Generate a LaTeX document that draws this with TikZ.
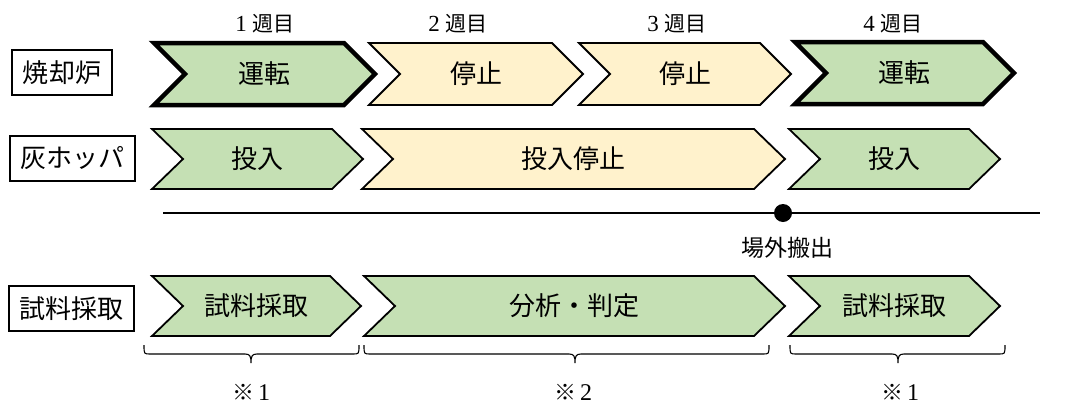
\documentclass[tikz,border=0pt]{standalone}
\usepackage{fontspec}
\setmainfont{Liberation Serif}
\newfontfamily\cjk{Noto Sans CJK JP}
\definecolor{pgreen}{HTML}{C5E0B4}
\definecolor{pyellow}{HTML}{FFF2CC}
\newcommand\chev[7]{%
  \draw[#1] (#2,#4) -- ({#3-31},#4) -- (#3,{(#4+#5)/2}) -- ({#3-31},#5) -- (#2,#5) -- ({#2+31},{(#4+#5)/2}) -- cycle;
  \node[ctext] (#6) at ({(#2+#3)/2},{(#4+#5)/2}) {#7};
}
\newcommand\brc[4]{% name, x1, x2, c
  \draw[bracestyle] (#2,345) .. controls (#2,354) .. ({#2+6},354) -- ({#4-6},354)
    .. controls ({#4-1},354) and (#4,356) .. (#4,363)
    .. controls (#4,356) and ({#4+1},354) .. ({#4+6},354) -- ({#3-6},354)
    .. controls (#3,354) .. (#3,345);
  \coordinate (#1) at (#4,363);
}
\begin{document}
\begin{tikzpicture}[x=1pt,y=-1pt,
  thickg/.style={draw=black,line width=4.5pt,fill=pgreen},
  grn/.style={draw=black,line width=1.8pt,fill=pgreen},
  ylw/.style={draw=black,line width=1.8pt,fill=pyellow},
  ctext/.style={font=\cjk\fontsize{26}{30}\selectfont,inner sep=0pt},
  lbox/.style={draw=black,line width=1.1pt,font=\cjk\fontsize{26}{30}\selectfont,inner sep=0pt,minimum height=45pt},
  wk/.style={font=\fontsize{23}{27}\selectfont,inner sep=0pt},
  bracestyle/.style={draw=black,line width=1.1pt},
]
\useasboundingbox (0,0) rectangle (1078,405);
\fill[white] (0,0) rectangle (1078,405);

% week labels
\node[wk] (w1) at (265,24) {1\hspace{6pt}{\cjk\fontsize{21}{25}\selectfont 週目}};
\node[wk] (w2) at (458,24) {2\hspace{6pt}{\cjk\fontsize{21}{25}\selectfont 週目}};
\node[wk] (w3) at (677,24) {3\hspace{6pt}{\cjk\fontsize{21}{25}\selectfont 週目}};
\node[wk] (w4) at (893,24) {4\hspace{6pt}{\cjk\fontsize{21}{25}\selectfont 週目}};

% left boxes
\node[lbox,minimum width=100pt] (b1) at (62,72.5) {焼却炉};
\node[lbox,minimum width=125pt] (b2) at (72.5,158.5) {灰ホッパ};
\node[lbox,minimum width=125pt] (b3) at (71.5,308.5) {試料採取};

% row 1
\chev{thickg}{154}{375}{43}{105}{r1a}{運転}
\chev{ylw}{369}{583}{43}{105}{r1b}{停止}
\chev{ylw}{579}{791}{43}{105}{r1c}{停止}
\chev{thickg}{795}{1014}{42}{104}{r1d}{運転}

% row 2
\chev{grn}{152}{363}{129}{189}{r2a}{投入}
\chev{ylw}{362}{785}{129}{189}{r2b}{投入停止}
\chev{grn}{789}{1000}{129}{189}{r2c}{投入}

% timeline
\coordinate (ls) at (163,213);
\coordinate (le) at (1040,213);
\draw[line width=1.1pt] (ls) -- (le);
\node[circle,fill=black,inner sep=0pt,minimum size=18pt] (dot) at (783,213) {};
\node[inner sep=0pt,font=\cjk\fontsize{23}{27}\selectfont] (out) at (787,248) {場外搬出};

% row 3
\chev{grn}{152}{361}{276}{336}{r3a}{試料採取}
\chev{grn}{364}{785}{276}{336}{r3b}{分析・判定}
\chev{grn}{789}{1000}{276}{336}{r3c}{試料採取}

% braces
\brc{t1}{144}{359}{251}
\brc{t2}{364}{769}{575}
\brc{t3}{790}{1005}{898}

\node[wk,font=\fontsize{24}{28}\selectfont] (n1) at (251,392) {{\cjk\fontsize{22}{26}\selectfont ※}\hspace{4pt}1};
\node[wk,font=\fontsize{24}{28}\selectfont] (n2) at (573,392) {{\cjk\fontsize{22}{26}\selectfont ※}\hspace{4pt}2};
\node[wk,font=\fontsize{24}{28}\selectfont] (n3) at (900,392) {{\cjk\fontsize{22}{26}\selectfont ※}\hspace{4pt}1};
\end{tikzpicture}
\end{document}
